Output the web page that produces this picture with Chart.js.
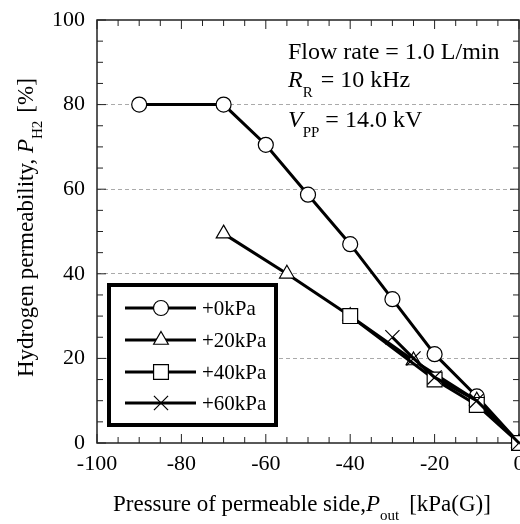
<!DOCTYPE html>
<html><head><meta charset="utf-8">
<script src="https://cdn.jsdelivr.net/npm/chart.js@4"></script>
<style>html,body{margin:0;padding:0;background:#fff}</style>
</head><body>
<canvas id="c" width="520" height="524"></canvas>
<script>
// tick values
const xTicks=[-100,-80,-60,-40,-20,0];
const yTicks=[0,20,40,60,80,100];
// series
const names=['+0kPa','+20kPa','+40kPa','+60kPa'];
const x0=[-90,-70,-60,-50,-40,-30,-20,-10,0];
const y0=[80,80,70.5,58.7,47,34,21,11,0];
const x20=[-70,-55,-40,-25,-10,0];
const y20=[49.5,40,30,19.5,10,0];
const x40=[-40,-20,-10,0];
const y40=[30,15,9,0];
const x60=[-30,-25,-20,-10,0];
const y60=[25,20,15.5,10,0];

const FF='"Liberation Serif","Times New Roman",serif';
const styles=[['circle',7.5],['triangle',8.5],['rect',10.5],['crossRot',10]];
const drawOrder=[1,0,-1,-2];
function pts(xs,ys){return xs.map((x,i)=>({x:x,y:ys[i]}));}
function ds(i,xs,ys){
 return {label:names[i],data:pts(xs,ys),borderColor:'#000',borderWidth:3,order:drawOrder[i],
  pointStyle:styles[i][0],pointRadius:styles[i][1],pointBackgroundColor:'#fff',
  pointBorderColor:'#000',pointBorderWidth:1.2,clip:false,tension:0};
}
function runs(ctx,x,y,parts){
 for(const p of parts){
  ctx.font=(p.i?'italic ':'')+p.s+'px '+FF;
  ctx.fillText(p.t,x,y+(p.dy||0));
  x+=ctx.measureText(p.t).width+(p.gap||0);
 }
}

const frame={
 id:'frame',
 beforeDatasetsDraw(chart){
  const {ctx,chartArea:a,scales:{x,y}}=chart;
  ctx.save();
  ctx.strokeStyle='#222';ctx.lineWidth=1.5;
  ctx.strokeRect(a.left,a.top,a.right-a.left,a.bottom-a.top);
  ctx.lineWidth=1;
  for(let v=-100;v<=0;v+=5){
   const p=x.getPixelForValue(v),l=v%20===0?9:6;
   ctx.beginPath();ctx.moveTo(p,a.bottom);ctx.lineTo(p,a.bottom-l);
   ctx.moveTo(p,a.top);ctx.lineTo(p,a.top+l);ctx.stroke();
  }
  for(let v=0;v<=100;v+=5){
   const p=y.getPixelForValue(v),l=v%20===0?9:6;
   ctx.beginPath();ctx.moveTo(a.left,p);ctx.lineTo(a.left+l,p);
   ctx.moveTo(a.right,p);ctx.lineTo(a.right-l,p);ctx.stroke();
  }
  ctx.restore();
 },
 afterDatasetsDraw(chart){
  const {ctx}=chart;
  ctx.save();
  // legend
  ctx.fillStyle='#fff';ctx.fillRect(109,285,167,140);
  ctx.strokeStyle='#000';ctx.lineWidth=4;ctx.strokeRect(109,285,167,140);
  const rows=[308,340,372,403];
  chart.data.datasets.forEach((d,i)=>{
   const yy=rows[i];
   ctx.lineWidth=3;ctx.strokeStyle='#000';
   ctx.beginPath();ctx.moveTo(125,yy);ctx.lineTo(196,yy);ctx.stroke();
   ctx.fillStyle='#fff';ctx.lineWidth=1.2;
   Chart.helpers.drawPoint(ctx,{pointStyle:d.pointStyle,radius:d.pointRadius,rotation:0,borderWidth:1.2},161,yy);
   ctx.fillStyle='#000';ctx.textBaseline='middle';ctx.textAlign='left';
   ctx.font='21px '+FF;ctx.fillText(d.label,202,yy+1);
  });
  // annotation
  ctx.textBaseline='alphabetic';ctx.fillStyle='#000';
  runs(ctx,288,59,[{t:'Flow rate = 1.0 L/min',s:24}]);
  runs(ctx,288,87,[{t:'R',s:24,i:1},{t:'R',s:15,dy:10,gap:8},{t:'= 10 kHz',s:24}]);
  runs(ctx,288,127,[{t:'V',s:24,i:1},{t:'PP',s:15,dy:10,gap:6},{t:'= 14.0 kV',s:24}]);
  // axis titles
  runs(ctx,113,511,[{t:'Pressure of permeable side,',s:23},{t:'P',s:23,i:1},{t:'out',s:15,dy:9,gap:10},{t:'[kPa(G)]',s:23}]);
  ctx.translate(33,377);ctx.rotate(-Math.PI/2);
  runs(ctx,0,0,[{t:'Hydrogen permeability, ',s:23},{t:'P',s:23,i:1},{t:'H2',s:15,dy:9,gap:8},{t:'[%]',s:23}]);
  ctx.restore();
 }
};

new Chart(document.getElementById('c'),{
 type:'line',
 data:{datasets:[ds(0,x0,y0),ds(1,x20,y20),ds(2,x40,y40),ds(3,x60,y60)]},
 options:{
  responsive:false,animation:false,
  layout:{autoPadding:false,padding:{top:20,right:1,left:0,bottom:0}},
  plugins:{legend:{display:false},tooltip:{enabled:false}},
  scales:{
   x:{type:'linear',min:-100,max:0,
    afterBuildTicks:s=>{s.ticks=xTicks.map(v=>({value:v}));},
    ticks:{font:{family:FF,size:22},color:'#000',padding:8,maxRotation:0,autoSkip:false},
    grid:{display:false,drawTicks:false},border:{display:false},
    afterFit:s=>{s.height=81;s.paddingLeft=0;s.paddingRight=0;}},
   y:{type:'linear',min:0,max:100,
    afterBuildTicks:s=>{s.ticks=yTicks.map(v=>({value:v}));},
    ticks:{font:{family:FF,size:22},color:'#000',padding:12},
    grid:{drawTicks:false,lineWidth:1,color:c=>(c.tick&&c.tick.value>0&&c.tick.value<100)?'#aaa':'rgba(0,0,0,0)'},
    border:{display:false,dash:[4,3]},
    afterFit:s=>{s.width=97;s.paddingTop=0;s.paddingBottom=0;}}
  }
 },
 plugins:[frame]
});
</script>
</body></html>
